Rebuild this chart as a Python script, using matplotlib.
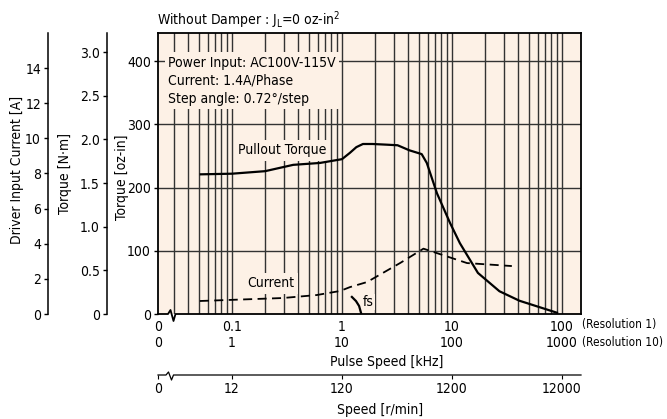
import numpy as np
import matplotlib
matplotlib.use('Agg')
import matplotlib.pyplot as plt
from matplotlib import font_manager
from matplotlib.lines import Line2D
from matplotlib.ticker import FixedLocator, NullFormatter

# pick the narrowest regular condensed sans that is installed
rank = {'extra-condensed': 1, 'condensed': 0, 'semi-condensed': 2}
fsize = 9
fam = 'Liberation Sans'
stretch = 'normal'
best = 99
for f in font_manager.fontManager.ttflist:
    if f.style != 'normal' or f.weight not in (400, 'normal', 'regular'):
        continue
    r = rank.get(f.stretch, 99)
    if r == 99 and ('Narrow' in f.name or 'Condensed' in f.name):
        r = 0
    if r < best:
        best = r
        fam = f.name
        stretch = f.stretch
        fsize = 10

plt.rcParams['font.family'] = [fam, 'DejaVu Sans']
plt.rcParams['font.stretch'] = stretch
plt.rcParams['font.size'] = fsize
plt.rcParams['mathtext.fontset'] = 'custom'
plt.rcParams['mathtext.rm'] = fam

# pullout torque [oz-in] vs pulse speed [kHz]
pullout_freq = [0.052, 0.1, 0.2, 0.36, 0.63, 1.0, 1.18, 1.35, 1.55, 1.9, 2.5, 3.2,
                4.1, 5.3, 5.9, 7.3, 9.6, 11.8, 17.2, 27, 41, 90]
pullout_torque = [221, 222, 226, 236, 239, 245, 255, 264, 269, 269, 268, 267,
                  259, 253, 239, 191, 144, 112, 65, 36, 21, 2]

# driver input current [A]
current_freq = [0.051, 0.29, 0.59, 0.96, 1.18, 1.69, 3.37, 5.5, 13.7, 35]
current_amp = [0.74, 0.91, 1.08, 1.31, 1.53, 1.82, 2.9, 3.72, 2.9, 2.73]

# starting frequency mark
fs_freq = [1.23, 1.34, 1.43, 1.49]
fs_torque = [27, 20.5, 12.7, 1.6]

pulse_ticks = [0.1, 1, 10, 100]
res1_labels = ['0.1', '1', '10', '100']
res10_labels = ['1', '10', '100', '1000']
speed_labels = ['12', '120', '1200', '12000']
ozin_ticks = [0, 100, 200, 300, 400]
nm_ticks = [0, 0.5, 1.0, 1.5, 2.0, 2.5, 3.0]
nm_labels = ['0', '0.5', '1.0', '1.5', '2.0', '2.5', '3.0']
amp_ticks = [0, 2, 4, 6, 8, 10, 12, 14]

W, H = 667, 419
x_left, x_right, y_top, y_bot = 158, 581, 33, 314
decade = 110.0
x_min = 10 ** (-1 - (232 - x_left) / decade)
x_max = 10 ** ((x_right - 342) / decade)
pink = '#fdf1e6'

fig = plt.figure(figsize=(W / 100, H / 100), dpi=100)
pos = [x_left / W, 1 - y_bot / H, (x_right - x_left) / W, (y_bot - y_top) / H]
ax = fig.add_axes(pos)
ax.set_facecolor(pink)
ax.set_xscale('log')
ax.set_xlim(x_min, x_max)
ax.set_ylim(0, (y_bot - y_top) / 0.632)

minor = [m * 10.0 ** e for e in range(-2, 3) for m in range(1, 10)]
minor = [v for v in minor if 0.025 < v <= 100]
ax.xaxis.set_major_locator(FixedLocator([x_min] + pulse_ticks))
ax.set_xticklabels(['0\n0'] + [a + '\n' + b for a, b in zip(res1_labels, res10_labels)],
                   linespacing=1.25)
ax.xaxis.set_minor_locator(FixedLocator(minor))
ax.xaxis.set_minor_formatter(NullFormatter())
ax.tick_params(axis='x', which='both', length=0, pad=4)
ax.set_yticks(ozin_ticks)
ax.tick_params(axis='y', direction='out', length=3, pad=2, width=1)
for v in minor:
    ax.axvline(v, color='#333333', lw=1.0, zorder=1)
for v in ozin_ticks[1:]:
    ax.axhline(v, color='#333333', lw=1.0, zorder=1)
ax.spines['bottom'].set_visible(False)
for s in ['top', 'right', 'left']:
    ax.spines[s].set_linewidth(1.3)

ax.plot(pullout_freq, pullout_torque, color='black', lw=1.6, zorder=4)
ax.plot(fs_freq, fs_torque, color='black', lw=1.6, zorder=4)

ax_cur = ax.twinx()
ax_cur.set_ylim(0, 16)
ax_cur.set_yticks([])
for s in ax_cur.spines.values():
    s.set_visible(False)
ax_cur.plot(current_freq, current_amp, color='black', lw=1.3, ls=(0, (5, 3)), zorder=4)

box = dict(boxstyle='square,pad=0.25', fc=pink, ec='none')
ax.text(0.0262, 369, 'Power Input: AC100V-115V\nCurrent: 1.4A/Phase\nStep angle: 0.72\u00b0/step',
        ha='left', va='center', linespacing=1.35, bbox=box, zorder=3)
ax.text(0.285, 259, 'Pullout Torque', ha='center', va='center', bbox=box, zorder=3)
ax.text(0.226, 49, 'Current', ha='center', va='center', bbox=box, zorder=3)
ax.text(1.55, 19, 'fs', ha='left', va='center',
        bbox=dict(boxstyle='square,pad=0.1', fc=pink, ec='none'), zorder=3)

# left axes: N*m and current
for xpx, lim, ticks, labels in [(107, (y_bot - y_top) / 87.3, nm_ticks, nm_labels),
                                (48, 16, amp_ticks, [str(t) for t in amp_ticks])]:
    a = fig.add_axes([xpx / W, pos[1], 0.0001, pos[3]])
    a.set_ylim(0, lim)
    a.set_yticks(ticks)
    a.set_yticklabels(labels)
    a.set_xticks([])
    a.patch.set_visible(False)
    for s in ['top', 'right', 'bottom']:
        a.spines[s].set_visible(False)
    a.spines['left'].set_linewidth(1.1)
    a.tick_params(axis='y', direction='out', length=3, pad=2, width=1)

# speed axis
ax_spd = fig.add_axes([x_left / W, 1 - 375 / H, (x_right - x_left) / W, 0.0001])
ax_spd.set_xscale('log')
ax_spd.set_xlim(x_min, x_max)
ax_spd.set_yticks([])
ax_spd.patch.set_visible(False)
for s in ax_spd.spines.values():
    s.set_visible(False)
ax_spd.xaxis.set_major_locator(FixedLocator([x_min * 1.001] + pulse_ticks))
ax_spd.set_xticklabels(['0'] + speed_labels)
ax_spd.xaxis.set_minor_locator(FixedLocator([]))
ax_spd.tick_params(axis='x', direction='out', length=3, width=0.8, pad=2)


# axis lines with break marks (figure pixels)
def brk(ypx, pts, lw):
    xs = [p[0] / W for p in pts]
    ys = [1 - (ypx + p[1]) / H for p in pts]
    fig.add_artist(Line2D(xs, ys, color='black', lw=lw))


brk(y_bot, [(x_left, 0), (168, 0), (170.5, -4), (173.5, 7), (175.5, 0), (x_right, 0)], 1.3)
brk(375, [(x_left, 0), (166, 0), (168.5, -3), (171.5, 5), (173.5, 0), (x_right, 0)], 0.9)

fig.text(582 / W, 1 - 333.5 / H, '(Resolution 1)\n(Resolution 10)', ha='left', va='center',
         linespacing=1.45, fontsize=fsize * 0.85)
fig.text(387 / W, 1 - 362 / H, 'Pulse Speed [kHz]', ha='center', va='center')
fig.text(380 / W, 1 - 410 / H, 'Speed [r/min]', ha='center', va='center')
fig.text(17 / W, 1 - 170 / H, 'Driver Input Current [A]', rotation=90, ha='center', va='center')
fig.text(65 / W, 1 - 173 / H, 'Torque [N\u00b7m]', rotation=90, ha='center', va='center')
fig.text(122 / W, 1 - 177 / H, 'Torque [oz-in]', rotation=90, ha='center', va='center')
fig.text(157 / W, 1 - 20 / H, r'Without Damper : J$_{\mathrm{L}}$=0 oz-in$^{\mathrm{2}}$',
         ha='left', va='center')

fig.savefig('out.png', dpi=100)
